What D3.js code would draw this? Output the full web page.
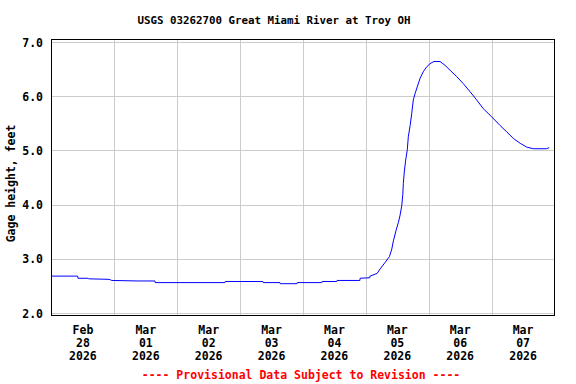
<!DOCTYPE html>
<html>
<head>
<meta charset="utf-8">
<script src="https://cdn.jsdelivr.net/npm/d3@7"></script>
<style>
  body { margin: 0; background: #fff; }
  svg text { font-family: "DejaVu Sans Mono", monospace; font-weight: bold; }
</style>
</head>
<body>
<div id="chart"></div>
<script>
// gage height readings, hours counted from Feb 28 2026 00:00
const hoursFromStart = [0, 10, 10.1, 14, 14.1, 22, 23, 33, 39.5, 39.6, 66.2, 66.3, 80.7, 80.8, 87.2, 87.3,
  93.7, 93.8, 103.2, 103.3, 108.9, 109, 117.7, 117.8, 121.5, 121.6, 124.3, 125.4, 127.3, 129.0, 129.9,
  130.5, 131.5, 132.4, 133.0, 133.7, 134.1, 134.3, 134.7, 135.2, 135.8, 136.2, 136.9, 137.5, 138.1,
  138.8, 139.6, 140.7, 141.9, 143.2, 144.5, 146.0, 148.3, 150.2, 152.1, 154.7, 157.2, 159.8, 162.3,
  164.8, 168.0, 171.2, 173.8, 176.3, 178.9, 181.4, 183.9, 189.0, 190.0]
const gageFeet = [2.69, 2.69, 2.65, 2.65, 2.64, 2.63, 2.61, 2.60, 2.60, 2.57, 2.57, 2.59, 2.59, 2.57, 2.57, 2.55,
  2.55, 2.57, 2.57, 2.59, 2.59, 2.61, 2.61, 2.65, 2.66, 2.69, 2.74, 2.82, 2.94, 3.05, 3.19,
  3.34, 3.53, 3.68, 3.80, 3.99, 4.20, 4.40, 4.63, 4.83, 5.02, 5.26, 5.47, 5.69, 5.94,
  6.06, 6.18, 6.34, 6.46, 6.55, 6.61, 6.65, 6.65, 6.58, 6.49, 6.37, 6.24, 6.09, 5.94,
  5.78, 5.63, 5.47, 5.35, 5.23, 5.14, 5.07, 5.04, 5.04, 5.06]

const yTicks = [2, 3, 4, 5, 6, 7]
const dayLabels = [["Feb", "28", "2026"], ["Mar", "01", "2026"], ["Mar", "02", "2026"], ["Mar", "03", "2026"],
  ["Mar", "04", "2026"], ["Mar", "05", "2026"], ["Mar", "06", "2026"], ["Mar", "07", "2026"]]

const title = "USGS 03262700 Great Miami River at Troy OH"
const yTitle = "Gage height, feet"
const footer = "---- Provisional Data Subject to Revision ----"

const startDate = new Date(2026, 1, 28)
const endDate = new Date(2026, 2, 8)
const data = hoursFromStart.map((h, i) => ({ t: new Date(startDate.getTime() + h * 3600e3), v: gageFeet[i] }))

const W = 576, H = 384
const frame = { left: 51.5, right: 554.5, top: 39.5, bottom: 315.5 }

const svg = d3.select("#chart").append("svg").attr("width", W).attr("height", H)

const x = d3.scaleTime().domain([startDate, endDate]).range([frame.left, frame.right])
const y = d3.scaleLinear().domain([2, 7]).range([313.5, 42.5])

// grid
const days = d3.timeDay.range(d3.timeDay.offset(startDate, 1), endDate)
svg.append("g").selectAll("line").data(days).enter().append("line")
  .attr("x1", d => Math.round(x(d)) + 0.5).attr("x2", d => Math.round(x(d)) + 0.5)
  .attr("y1", frame.top).attr("y2", frame.bottom)
  .attr("stroke", "#cccccc").attr("stroke-width", 1)
svg.append("g").selectAll("line").data(yTicks).enter().append("line")
  .attr("x1", frame.left).attr("x2", frame.right)
  .attr("y1", d => Math.round(y(d) - 0.5) + 0.5).attr("y2", d => Math.round(y(d) - 0.5) + 0.5)
  .attr("stroke", "#cccccc").attr("stroke-width", 1)

// the hydrograph
const line = d3.line().x(d => x(d.t)).y(d => y(d.v))
svg.append("path").datum(data).attr("d", line)
  .attr("fill", "none").attr("stroke", "#0000ff").attr("stroke-width", 1)

// frame
svg.append("rect")
  .attr("x", frame.left).attr("y", frame.top)
  .attr("width", frame.right - frame.left).attr("height", frame.bottom - frame.top)
  .attr("fill", "none").attr("stroke", "#000").attr("stroke-width", 1)

// y tick labels
svg.append("g").selectAll("text").data(yTicks).enter().append("text")
  .attr("x", 43).attr("y", d => y(d) + 4)
  .attr("text-anchor", "end").attr("font-size", 11.5)
  .text(d => d.toFixed(1))

// x labels, centred at noon
const xl = svg.append("g").selectAll("g").data(dayLabels).enter().append("text")
  .attr("text-anchor", "middle").attr("font-size", 11.5)
xl.each(function (d, i) {
  const cx = x(d3.timeHour.offset(d3.timeDay.offset(startDate, i), 12))
  d3.select(this).selectAll("tspan").data(d).enter().append("tspan")
    .attr("x", cx).attr("y", (s, j) => 334 + j * 13)
    .text(s => s)
})

svg.append("text").attr("x", 274).attr("y", 24)
  .attr("text-anchor", "middle").attr("font-size", 10.8)
  .text(title)

svg.append("text")
  .attr("transform", `translate(15,${(frame.top + frame.bottom) / 2 + 6}) rotate(-90)`)
  .attr("text-anchor", "middle").attr("font-size", 11.5)
  .text(yTitle)

svg.append("text").attr("x", 301).attr("y", 379)
  .attr("text-anchor", "middle").attr("font-size", 11.5).attr("fill", "#ff0000")
  .text(footer)
</script>
</body>
</html>
